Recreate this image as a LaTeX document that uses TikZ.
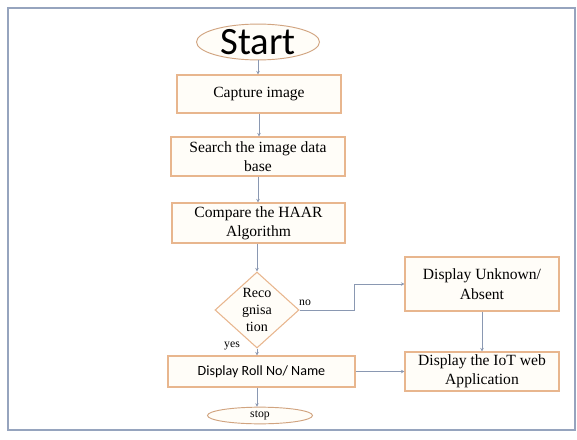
\documentclass[tikz,border=0pt]{standalone}
\usepackage{fontspec}
\setmainfont{Liberation Serif}
\newfontfamily\calibri{Carlito}
\usetikzlibrary{arrows.meta, shapes.geometric}

\definecolor{boxline}{RGB}{232,182,142}
\definecolor{boxfill}{RGB}{255,253,248}
\definecolor{flowline}{RGB}{138,152,178}
\definecolor{frameline}{RGB}{150,164,190}

\tikzset{
  procbox/.style={draw=boxline, fill=boxfill, line width=0.9pt, inner sep=0pt, align=center,
    font=\fontsize{13.3}{16.5}\selectfont},
  termnode/.style={ellipse, draw=boxline!90!black, fill=boxfill, line width=0.8pt, inner sep=0pt},
  flow/.style={draw=flowline, line width=0.7pt, -{Stealth[length=3pt, width=3pt]}},
  flowlabel/.style={font=\fontsize{10}{12}\selectfont}
}

\begin{document}
\begin{tikzpicture}[x=0.03cm, y=-0.03cm]
\useasboundingbox (0,0) rectangle (577,439);
% frame
\draw[frameline, line width=1.4pt, fill=white] (8,8) rectangle (575,430);

% nodes
\node[termnode, minimum width=3.69cm, minimum height=1.02cm, font=\calibri\fontsize{33}{36}\selectfont] (start) at (258,42) {Start};
\node[procbox, minimum width=4.92cm, minimum height=1.14cm] (capture) at (259,94) {Capture image};
\node[procbox, minimum width=5.22cm, minimum height=1.17cm] (search) at (258,156.5) {Search the image data\\base};
\node[procbox, minimum width=5.19cm, minimum height=1.2cm] (compare) at (258.5,223) {Compare the HAAR\\Algorithm};
\node[diamond, draw=boxline, fill=boxfill, line width=0.9pt, inner sep=0pt, aspect=1.1,
  minimum width=2.52cm, minimum height=2.28cm, align=center,
  font=\fontsize{12}{14.5}\selectfont] (recog) at (257,310) {Reco\\gnisa\\tion};
\node[procbox, minimum width=5.61cm, minimum height=0.93cm, font=\calibri\fontsize{12}{14}\selectfont] (roll) at (261.5,371.5) {Display Roll No/ Name};
\node[termnode, minimum width=3.15cm, minimum height=0.5cm, font=\fontsize{10}{12}\selectfont] (stop) at (260,415.5) {stop};
\node[procbox, minimum width=4.62cm, minimum height=1.62cm] (unknown) at (482,284) {Display Unknown/\\Absent};
\node[procbox, minimum width=4.62cm, minimum height=1.17cm] (iot) at (482,371.5) {Display the IoT web\\Application};

\coordinate (nobend) at (354,310);

% connectors
\draw[flow] (start.south) -- (start.south |- capture.north);
\draw[flow] (capture.south) -- (capture.south |- search.north);
\draw[flow] (search.south) -- (search.south |- compare.north);
\draw[flow] (compare.south -| recog.north) -- (recog.north);
\draw[flow] (recog.south) -- (recog.south |- roll.north);
\draw[flow] (recog.south |- roll.south) -- (recog.south |- stop.north);
\draw[flow] (recog.east) -- (nobend) |- (unknown.west);
\draw[flow] (unknown.south) -- (iot.north);
\draw[flow] (roll.east) -- (iot.west);

% labels
\node[flowlabel] (nolabel) at (305,303) {no};
\node[flowlabel] (yeslabel) at (232,346) {yes};
\end{tikzpicture}
\end{document}
